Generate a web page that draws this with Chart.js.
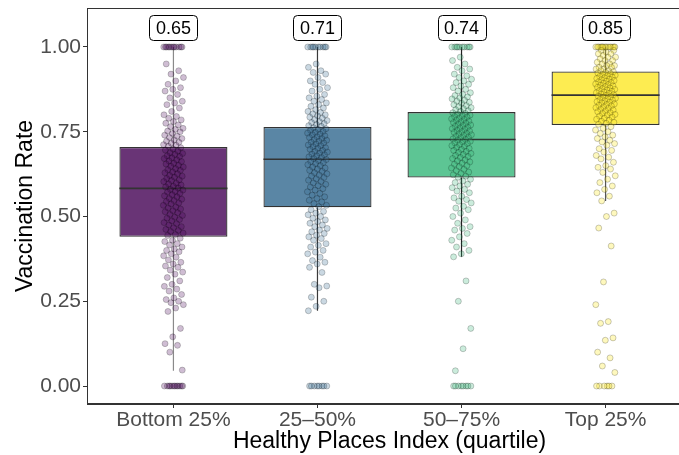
<!DOCTYPE html>
<html><head><meta charset="utf-8">
<script src="https://cdn.jsdelivr.net/npm/chart.js@4.4.1/dist/chart.umd.min.js"></script>
<style>html,body{margin:0;padding:0;overflow:hidden;background:#fff}#wrap{width:700px;height:455px}</style>
</head><body><div id="wrap"><canvas id="c" width="700" height="455"></canvas></div>
<script>
// ---- data ----
const categories = ["Bottom 25%", "25\u201350%", "50\u201375%", "Top 25%"];
const labelValues = [0.65, 0.71, 0.74, 0.85];
const q1 = [0.440, 0.527, 0.615, 0.770];
const med = [0.583, 0.669, 0.727, 0.858];
const q3 = [0.705, 0.764, 0.808, 0.928];
const whiskLo = [0.045, 0.222, 0.381, 0.546];
const whiskHi = [1.00, 1.00, 1.00, 1.00];
const yTicks = [0, 0.25, 0.5, 0.75, 1];
const yTickLabels = ["0.00", "0.25", "0.50", "0.75", "1.00"];

const pts1 = [1,1,1,1,1,1,1,1,1,1,1,1, 0,0,0,0,0,0,0,0,0,0,0,0,
0.95,0.93,0.92,0.91,0.90,0.89,0.88,0.875,0.87,0.86,0.85,0.84,0.835,0.83,0.82,0.81,0.80,0.795,0.79,0.785,0.78,0.775,0.77,0.765,0.76,0.757,0.752,0.75,0.745,0.74,0.737,0.733,0.73,0.726,0.722,0.719,0.716,0.712,0.71,0.707,
0.703,0.699,0.696,0.693,0.688,0.686,0.683,0.679,0.677,0.673,0.671,0.667,0.664,0.662,0.657,0.655,0.651,0.648,0.646,0.641,0.638,0.636,0.631,0.629,0.626,0.621,0.619,0.616,0.612,0.608,0.606,0.603,0.598,0.596,0.593,0.589,0.587,0.584,0.58,0.578,0.574,0.572,0.568,0.564,0.561,0.558,0.553,0.551,0.547,0.544,0.54,0.537,0.533,0.528,0.525,0.522,0.517,0.514,0.511,0.506,0.503,0.498,0.495,0.491,0.487,0.482,0.479,0.475,0.47,0.467,0.462,0.459,0.456,0.451,0.447,0.444,
0.436,0.43,0.426,0.42,0.416,0.41,0.404,0.40,0.396,0.39,0.384,0.38,0.372,0.365,0.36,0.354,0.35,0.342,0.336,0.33,0.32,0.31,0.30,0.294,0.286,0.28,0.27,0.26,0.255,0.25,0.246,0.24,0.23,0.22,0.17,0.145,0.125,0.12,0.10,0.047];

const pts2 = [1,1,1,1,1,1,1,1,1,1, 0,0,0,0,0,0,0,0,
0.95,0.94,0.93,0.925,0.92,0.91,0.90,0.895,0.89,0.88,0.875,0.87,0.86,0.855,0.85,0.845,0.84,0.835,0.83,0.825,0.82,0.815,0.81,0.807,0.803,0.80,0.797,0.793,0.79,0.786,0.783,0.78,0.777,0.774,0.771,0.768,0.766,
0.762,0.759,0.757,0.754,0.751,0.748,0.746,0.743,0.741,0.738,0.735,0.733,0.73,0.727,0.725,0.722,0.719,0.717,0.714,0.711,0.709,0.706,0.703,0.701,0.698,0.695,0.692,0.69,0.687,0.684,0.682,0.679,0.676,0.674,0.671,0.668,0.665,0.662,0.659,0.656,0.653,0.65,0.646,0.643,0.64,0.636,0.633,0.629,0.626,0.622,0.619,0.615,0.611,0.607,0.603,0.599,0.595,0.591,0.587,0.582,0.578,0.573,0.568,0.563,0.558,0.553,0.548,0.543,0.538,0.533,0.529,
0.52,0.515,0.51,0.505,0.50,0.495,0.49,0.485,0.48,0.475,0.47,0.465,0.46,0.455,0.45,0.445,0.44,0.435,0.43,0.42,0.415,0.41,0.40,0.395,0.39,0.38,0.37,0.365,0.36,0.35,0.335,0.30,0.295,0.29,0.262,0.25,0.235,0.222];

const pts3 = [1,1,1,1,1,1,1,1,1,1, 0,0,0,0,0,0,0,0,
0.97,0.96,0.95,0.94,0.935,0.93,0.92,0.915,0.91,0.905,0.90,0.895,0.89,0.885,0.88,0.875,0.87,0.865,0.86,0.857,0.853,0.85,0.847,0.843,0.84,0.837,0.834,0.83,0.827,0.824,0.821,0.818,0.815,0.812,0.81,
0.806,0.804,0.802,0.799,0.797,0.795,0.793,0.79,0.788,0.786,0.784,0.781,0.779,0.777,0.775,0.772,0.77,0.768,0.766,0.763,0.761,0.759,0.757,0.754,0.752,0.75,0.748,0.745,0.743,0.741,0.739,0.736,0.734,0.732,0.729,0.727,0.725,0.722,0.72,0.717,0.715,0.712,0.709,0.707,0.704,0.701,0.698,0.695,0.692,0.689,0.686,0.683,0.68,0.677,0.674,0.671,0.667,0.664,0.661,0.657,0.654,0.65,0.647,0.643,0.639,0.635,0.631,0.627,0.623,0.619,0.616,
0.61,0.605,0.60,0.595,0.59,0.585,0.58,0.575,0.57,0.56,0.555,0.55,0.545,0.54,0.53,0.525,0.52,0.51,0.50,0.49,0.48,0.47,0.465,0.46,0.45,0.44,0.43,0.42,0.41,0.40,0.39,0.381,0.31,0.25,0.17,0.11,0.045];

const pts4 = [1,1,1,1,1,1,1,1,1,1,1,1,1,1,1, 0,0,0,0,0,0,
0.99,0.99,0.985,0.98,0.98,0.975,0.97,0.97,0.965,0.96,0.96,0.955,0.95,0.95,0.945,0.945,0.94,0.94,0.935,0.935,0.93,0.93,
0.927,0.925,0.923,0.921,0.919,0.917,0.915,0.913,0.911,0.909,0.907,0.905,0.903,0.901,0.899,0.897,0.895,0.893,0.891,0.889,0.887,0.885,0.883,0.881,0.879,0.877,0.875,0.873,0.871,0.869,0.867,0.865,0.863,0.861,0.859,0.857,0.855,0.853,0.851,0.849,0.847,0.845,0.843,0.841,0.839,0.837,0.835,0.832,0.83,0.828,0.826,0.823,0.821,0.819,0.816,0.814,0.811,0.809,0.806,0.804,0.801,0.799,0.796,0.793,0.79,0.787,0.784,0.781,0.778,0.775,0.772,
0.765,0.76,0.755,0.75,0.745,0.74,0.735,0.73,0.725,0.72,0.715,0.71,0.70,0.695,0.69,0.68,0.675,0.67,0.66,0.65,0.645,0.64,0.63,0.62,0.61,0.60,0.59,0.58,0.57,0.56,0.546,
0.51,0.50,0.466,0.413,0.307,0.24,0.19,0.185,0.142,0.135,0.10,0.083,0.059,0.04];

const groups = [pts1, pts2, pts3, pts4];

// ---- styling ----
const FONT = "'Liberation Sans', Arial, Helvetica, sans-serif";
Chart.defaults.font.family = FONT;
const boxFill = ["#693476", "#5a86a5", "#5dc594", "#fdec51"];
const ptFill = ["rgba(68,1,84,0.26)", "rgba(49,104,142,0.26)", "rgba(53,183,121,0.26)", "rgba(253,231,37,0.3)"];
const whiskColor = ["#8a8a8a", "#3a3a3a", "#222222", "#555555"];
const BOX_HALF = 0.375;

function jitter(i) { // deterministic spread used only for horizontal placement
  const f = (i * 0.6180339887 + 0.31) % 1;
  return (f - 0.5) * 0.14;
}

const datasets = [];
datasets.push({type:'bar', data: categories.map((c,i)=>({x:i+1, y:[q1[i], q3[i]]})),
  backgroundColor: boxFill, borderColor:'#333333', borderWidth:1.3, borderSkipped:false,
  barPercentage:0.75, categoryPercentage:1, grouped:false, order:6});
categories.forEach((c,i)=>{
  datasets.push({type:'line', data:[{x:i+1-BOX_HALF,y:med[i]},{x:i+1+BOX_HALF,y:med[i]}],
    borderColor:'#333333', borderWidth:1.6, pointRadius:0, order:5});
  datasets.push({type:'line', data:[{x:i+1,y:whiskLo[i]},{x:i+1,y:q1[i]},{x:i+1,y:null},{x:i+1,y:q3[i]},{x:i+1,y:whiskHi[i]}],
    borderColor: whiskColor[i], borderWidth:1.2, pointRadius:0, spanGaps:false, order:4});
});
groups.forEach((g,gi)=>{
  datasets.push({type:'scatter', data: g.map((v,k)=>({x: gi+1+jitter(k), y: v})),
    backgroundColor: ptFill[gi], borderColor:'rgba(0,0,0,0.26)', borderWidth:0.8,
    pointRadius:3, order:1});
});

const frame = {
  id:'frame',
  afterDraw(chart){
    const {ctx, chartArea:a, scales} = chart;
    ctx.save();
    ctx.strokeStyle = '#333333'; ctx.lineWidth = 1;
    ctx.strokeRect(a.left+0.5, a.top+0.5, a.right-a.left-1, a.bottom-a.top-1);
    ctx.font = "18px " + FONT;
    ctx.textAlign = 'center'; ctx.textBaseline = 'middle';
    labelValues.forEach((v,i)=>{
      const x = scales.x.getPixelForValue(i+1);
      const y = scales.y.getPixelForValue(1.058);
      const t = v.toFixed(2);
      const w = ctx.measureText(t).width + 13, h = 25;
      ctx.beginPath();
      ctx.roundRect(Math.round(x - w/2)+0.5, Math.round(y - h/2)+0.5, Math.round(w), h, 4);
      ctx.fillStyle = '#ffffff'; ctx.fill();
      ctx.strokeStyle = '#000000'; ctx.lineWidth = 1; ctx.stroke();
      ctx.fillStyle = '#000000';
      ctx.fillText(t, x, y+1.5);
    });
    ctx.restore();
  }
};

new Chart(document.getElementById('c'), {
  data: {datasets},
  plugins:[frame],
  options: {
    responsive:false, animation:false, devicePixelRatio:1,
    layout:{padding:{top:8, right:8, left:0, bottom:0}},
    plugins:{legend:{display:false}, tooltip:{enabled:false}},
    scales:{
      x:{type:'linear', min:0.4, max:4.6, offset:false,
        afterBuildTicks: s => { s.ticks = categories.map((c,i)=>({value:i+1})); },
        afterFit: s => { s.height = 51; s.paddingLeft = 0; s.paddingRight = 0; },
        ticks:{callback:(v,idx)=>categories[idx], font:{size:21}, color:'#4d4d4d', padding:0, maxRotation:0, autoSkip:false},
        grid:{display:true, offset:false, drawOnChartArea:false, drawTicks:true, tickLength:4, color:'#333333'},
        border:{display:true, color:'#333333', width:1},
        title:{display:true, text:'Healthy Places Index (quartile)', font:{size:23}, color:'#000000', padding:0}
      },
      y:{type:'linear', min:-0.053, max:1.115,
        afterBuildTicks: s => { s.ticks = yTicks.map(v=>({value:v})); },
        afterFit: s => { s.width = 87; s.paddingTop = 0; s.paddingBottom = 0; },
        ticks:{callback:(v,idx)=>yTickLabels[idx], font:{size:21}, color:'#4d4d4d', padding:2, autoSkip:false},
        grid:{display:true, drawOnChartArea:false, drawTicks:true, tickLength:4, color:'#333333'},
        border:{display:true, color:'#333333', width:1},
        title:{display:true, text:'Vaccination Rate', font:{size:23}, color:'#000000', padding:{top:12, bottom:0}}
      }
    }
  }
});
</script></body></html>
